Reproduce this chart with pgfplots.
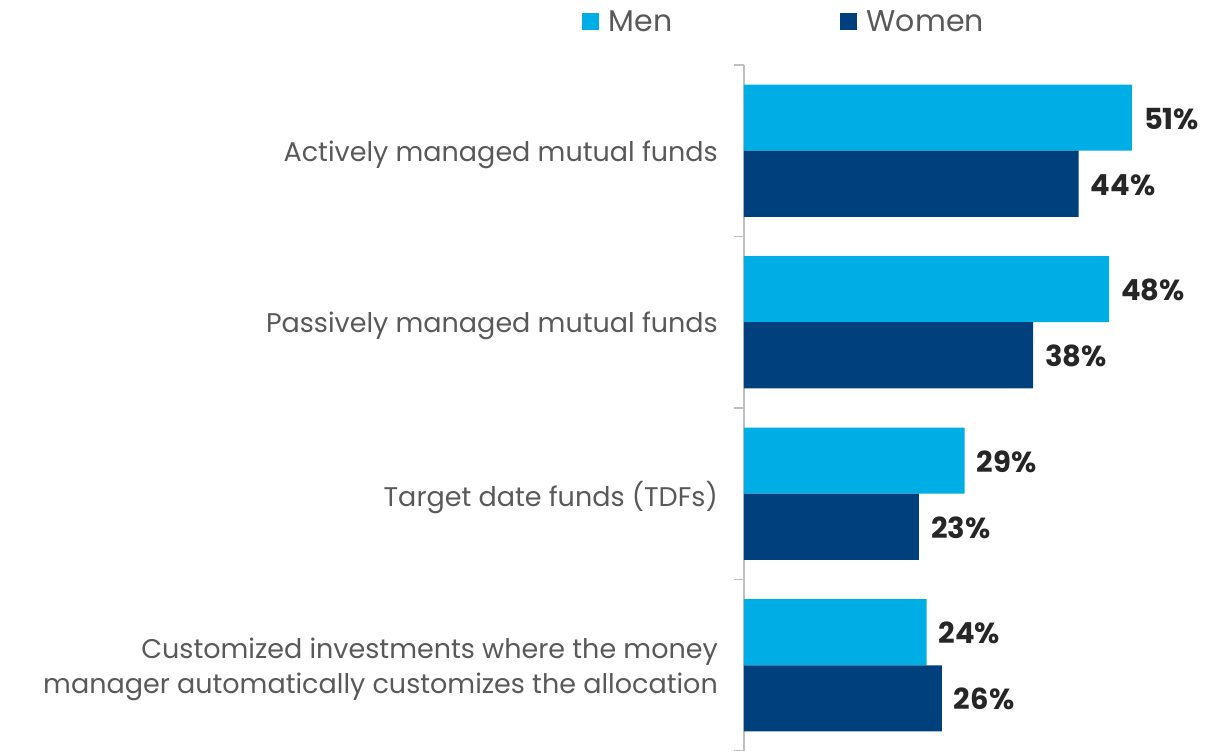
\documentclass[border=0pt]{standalone}
\usepackage{fontspec}
\setmainfont{Poppins}
\usepackage{pgfplots}
\pgfplotsset{compat=1.18}
\definecolor{men}{RGB}{0,174,230}
\definecolor{women}{RGB}{0,64,125}
\definecolor{lbl}{RGB}{89,89,89}
\definecolor{val}{RGB}{38,38,38}
\definecolor{axisgray}{RGB}{191,191,191}

\begin{document}
\begin{tikzpicture}
\begin{axis}[
  at={(744pt,0pt)}, anchor=south west,
  scale only axis, width=464pt, height=686pt,
  xbar, bar width=0.385,
  xmin=0, xmax=61, ymin=-0.5, ymax=3.5, y dir=reverse,
  clip=false,
  axis x line=none, axis y line*=left,
  y axis line style={draw=axisgray, line width=1.5pt, -},
  ytick={0,1,2,3},
  yticklabels={Actively managed mutual funds, Passively managed mutual funds, Target date funds (TDFs), {Customized investments where the money\\manager automatically customizes the allocation}},
  minor ytick={-0.5,0.5,1.5,2.5,3.5},
  major tick length=0pt, minor tick length=10pt, tick align=outside,
  y tick style={draw=axisgray, line width=1.5pt},
  yticklabel style={font=\fontsize{27}{35}\selectfont, text=lbl, align=right, inner sep=0pt, xshift=-26pt, yshift=-4pt},
  point meta=x,
  nodes near coords={\pgfmathprintnumber[assume math mode=true]{\pgfplotspointmeta}\%},
  nodes near coords style={font=\bfseries\fontsize{29}{29}\selectfont, text=val, anchor=west, inner sep=0pt, xshift=12pt, yshift=-1pt},
  legend columns=2,
  legend style={at={(0.086,1.063)}, anchor=center, draw=none, fill=none,
    font=\fontsize{30}{30}\selectfont, text=lbl,
    /tikz/every odd column/.append style={column sep=8pt},
    /tikz/every even column/.append style={column sep=165pt}},
  legend image code/.code={\fill[#1] (0pt,-8.5pt) rectangle (17pt,8.5pt);},
]
\addplot[fill=men, draw=none, bar shift=-0.1925] coordinates {(51,0) (48,1) (29,2) (24,3)};
\addlegendentry{Men}
\addplot[fill=women, draw=none, bar shift=0.1925] coordinates {(44,0) (38,1) (23,2) (26,3)};
\addlegendentry{Women}
\end{axis}
\pgfresetboundingbox
\path[use as bounding box] (0,0) rectangle (1211pt,751pt);
\end{tikzpicture}
\end{document}
